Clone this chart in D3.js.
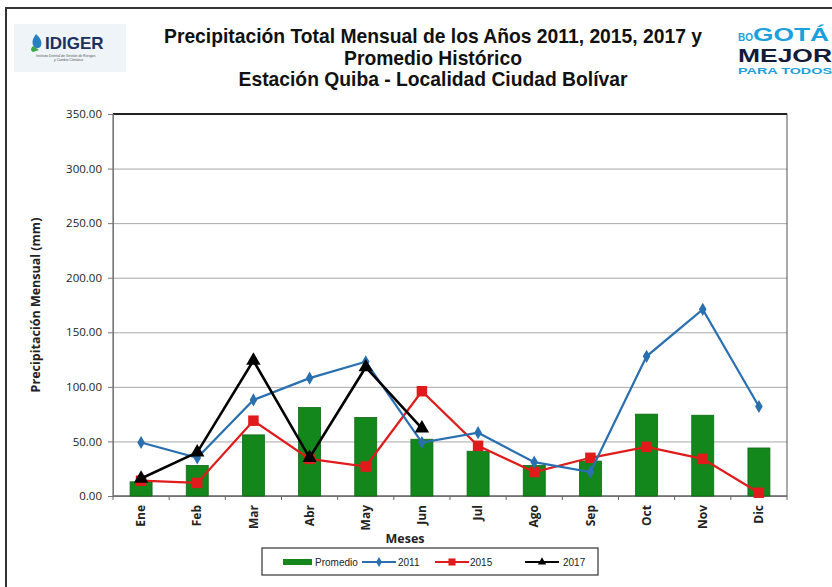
<!doctype html>
<html>
<head>
<meta charset="utf-8">
<script src="https://cdnjs.cloudflare.com/ajax/libs/d3/7.8.5/d3.min.js"></script>
<style>
  body { margin: 0; background: #fff; }
  svg { display: block; font-family: "Liberation Sans", Arial, sans-serif; }
  .grid line { stroke: #a8a8a8; stroke-width: 1; }
  .grid path { display: none; }
  .axis text { font-family: "Open Sans", sans-serif; fill: #222; }
  .axis path, .axis line { stroke: #777; }
</style>
</head>
<body>
<svg width="832" height="587"></svg>
<script>
var meses = ["Ene", "Feb", "Mar", "Abr", "May", "Jun", "Jul", "Ago", "Sep", "Oct", "Nov", "Dic"];
var promedio = [13, 28, 56, 81, 72, 52, 41, 28, 32, 75, 74, 44];
var anio2011 = [49, 35, 88, 108, 123, 49, 58, 31, 22, 128, 171, 82];
var anio2015 = [14, 12, 69, 34, 27, 96, 46, 22, 35, 45, 34, 3];
var anio2017 = [16, 40, 124, 35, 118, 62];
var yTicks = [0, 50, 100, 150, 200, 250, 300, 350];

var svg = d3.select("svg");
var pLeft = 113, pRight = 787, pTop = 114, pBottom = 496;
var fuente = "'Open Sans', sans-serif";

// marco exterior
svg.append("rect").attr("x", 6).attr("y", 8).attr("width", 840).attr("height", 600)
  .attr("fill", "none").attr("stroke", "#333").attr("stroke-width", 2);

// titulo
var titulo = ["Precipitación Total Mensual de los Años 2011, 2015, 2017 y", "Promedio Histórico", "Estación Quiba - Localidad Ciudad Bolívar"];
svg.selectAll("text.titulo").data(titulo).enter().append("text")
  .attr("class", "titulo")
  .attr("x", 433).attr("y", function (d, i) { return 43 + i * 21.5; })
  .attr("text-anchor", "middle")
  .attr("font-size", 19.3).attr("font-weight", "bold").attr("fill", "#111")
  .text(function (d) { return d; });

// logo izquierdo
var logo = svg.append("g");
logo.append("rect").attr("x", 14).attr("y", 24).attr("width", 112).attr("height", 48).attr("fill", "#eef4f8");
logo.append("path").attr("d", "M36 34 q-6 8 -2 13 q4 3 7 -1 q2 -6 -5 -12z").attr("fill", "#2a7fc0");
logo.append("path").attr("d", "M33 46 q-4 4 0 6 l6 -2z").attr("fill", "#3aa54a");
logo.append("text").attr("x", 45).attr("y", 49).attr("font-size", 17).attr("font-weight", "bold")
  .attr("fill", "#1c2f5e").text("IDIGER");
logo.append("text").attr("x", 36).attr("y", 57).attr("font-size", 3.4).attr("fill", "#555")
  .text("Instituto Distrital de Gestión de Riesgos");
logo.append("text").attr("x", 54).attr("y", 61).attr("font-size", 3.4).attr("fill", "#555")
  .text("y Cambio Climático");

// logo derecho
var logo2 = svg.append("g");
var bogota = logo2.append("text").attr("x", 738).attr("y", 41).attr("font-weight", "bold").attr("fill", "#1aa0dd");
bogota.append("tspan").attr("font-size", 10).text("BO");
bogota.append("tspan").attr("font-size", 18).attr("textLength", 76).attr("lengthAdjust", "spacingAndGlyphs").text("GOTÁ");
logo2.append("text").attr("x", 738).attr("y", 62).attr("font-size", 19).attr("font-weight", "bold").attr("fill", "#131a3a")
  .attr("textLength", 94).attr("lengthAdjust", "spacingAndGlyphs").text("MEJOR");
logo2.append("text").attr("x", 738).attr("y", 74).attr("font-size", 9).attr("font-weight", "bold").attr("fill", "#1aa0dd")
  .attr("textLength", 94).attr("lengthAdjust", "spacingAndGlyphs").text("PARA TODOS");

var x = d3.scaleBand().domain(meses).range([pLeft, pRight]);
var y = d3.scaleLinear().domain([0, 350]).range([pBottom, pTop]);
var cx = function (d, i) { return x(meses[i]) + x.bandwidth() / 2; };

// rejilla
svg.append("g").attr("class", "grid")
  .attr("transform", "translate(" + pLeft + ",0)")
  .call(d3.axisLeft(y).tickValues(yTicks).tickSize(-(pRight - pLeft)).tickFormat(""));

// borde del area
svg.append("rect").attr("x", pLeft).attr("y", pTop).attr("width", pRight - pLeft).attr("height", pBottom - pTop)
  .attr("fill", "none").attr("stroke", "#555").attr("stroke-width", 1);
svg.append("line").attr("x1", pLeft).attr("x2", pRight).attr("y1", pTop).attr("y2", pTop)
  .attr("stroke", "#222").attr("stroke-width", 2);

// ejes
svg.append("g").attr("class", "axis")
  .attr("transform", "translate(" + pLeft + ",0)")
  .call(d3.axisLeft(y).tickValues(yTicks).tickSize(5).tickPadding(6).tickFormat(d3.format(".2f")))
  .selectAll("text").attr("font-size", 11.5);

var xAxis = svg.append("g").attr("class", "axis")
  .attr("transform", "translate(0," + pBottom + ")")
  .call(d3.axisBottom(x).tickSize(0).tickPadding(0));
xAxis.select(".domain").remove();
xAxis.selectAll("text")
  .attr("font-size", 12).attr("font-weight", "bold")
  .attr("transform", "rotate(-90)")
  .attr("text-anchor", "end")
  .attr("x", -9).attr("y", 0).attr("dy", "0.35em");
svg.append("line").attr("x1", pLeft).attr("x2", pRight).attr("y1", pBottom).attr("y2", pBottom).attr("stroke", "#666");
svg.append("g").selectAll("line").data(d3.range(meses.length + 1)).enter().append("line")
  .attr("x1", function (d) { return pLeft + d * x.step(); })
  .attr("x2", function (d) { return pLeft + d * x.step(); })
  .attr("y1", pBottom).attr("y2", pBottom + 4).attr("stroke", "#666");

// titulos de ejes
svg.append("text").attr("transform", "translate(40," + (pTop + pBottom) / 2 + ") rotate(-90)")
  .attr("text-anchor", "middle").attr("font-size", 12.5).attr("font-weight", "bold")
  .attr("font-family", fuente).attr("fill", "#222")
  .text("Precipitación Mensual (mm)");
svg.append("text").attr("x", 405).attr("y", 543).attr("text-anchor", "middle")
  .attr("font-size", 12.5).attr("font-weight", "bold")
  .attr("font-family", fuente).attr("fill", "#222")
  .text("Meses");

// barras
var bw = 22;
svg.append("g").selectAll("rect").data(promedio).enter().append("rect")
  .attr("x", function (d, i) { return cx(d, i) - bw / 2; })
  .attr("y", function (d) { return y(d); })
  .attr("width", bw)
  .attr("height", function (d) { return pBottom - y(d); })
  .attr("fill", "#13861c").attr("stroke", "#0e6a16").attr("stroke-width", 0.8);

// lineas
function serie(data, color, ancho, forma, tam) {
  var line = d3.line().x(cx).y(function (d) { return y(d); });
  svg.append("path").datum(data).attr("d", line)
    .attr("fill", "none").attr("stroke", color).attr("stroke-width", ancho).attr("stroke-linejoin", "miter");
  svg.append("g").selectAll("path").data(data).enter().append("path")
    .attr("transform", function (d, i) { return "translate(" + cx(d, i) + "," + y(d) + ")"; })
    .attr("d", d3.symbol().type(forma).size(tam))
    .attr("fill", color);
}
serie(anio2015, "#e01b1b", 2.2, d3.symbolSquare, 110);
serie(anio2011, "#2a6fb0", 2.2, d3.symbolDiamond, 50);
serie(anio2017, "#000", 2.6, d3.symbolTriangle, 90);

// leyenda
var lg = svg.append("g").attr("transform", "translate(262,548)");
lg.append("rect").attr("width", 336).attr("height", 27).attr("fill", "#fff").attr("stroke", "#333").attr("stroke-width", 1.2);
var ly = 14;
lg.append("rect").attr("x", 21).attr("y", ly - 3).attr("width", 29).attr("height", 6).attr("fill", "#13861c");
var etiquetas = ["Promedio", "2011", "2015", "2017"];
var lx = [53, 136, 208, 301];
lg.selectAll("text").data(etiquetas).enter().append("text")
  .attr("x", function (d, i) { return lx[i]; }).attr("y", ly + 4)
  .attr("font-size", 10).attr("font-family", "'Liberation Sans', Arial, sans-serif").attr("fill", "#222")
  .text(function (d) { return d; });
var lineas = [
  { x: 117, c: "#2a6fb0", s: d3.symbolDiamond, z: 30 },
  { x: 190, c: "#e01b1b", s: d3.symbolSquare, z: 50 },
  { x: 280, c: "#000", s: d3.symbolTriangle, z: 30 }
];
lineas.forEach(function (l) {
  lg.append("line").attr("x1", l.x - 17).attr("x2", l.x + 17).attr("y1", ly).attr("y2", ly)
    .attr("stroke", l.c).attr("stroke-width", 2);
  lg.append("path").attr("transform", "translate(" + l.x + "," + ly + ")")
    .attr("d", d3.symbol().type(l.s).size(l.z)).attr("fill", l.c);
});
</script>
</body>
</html>
